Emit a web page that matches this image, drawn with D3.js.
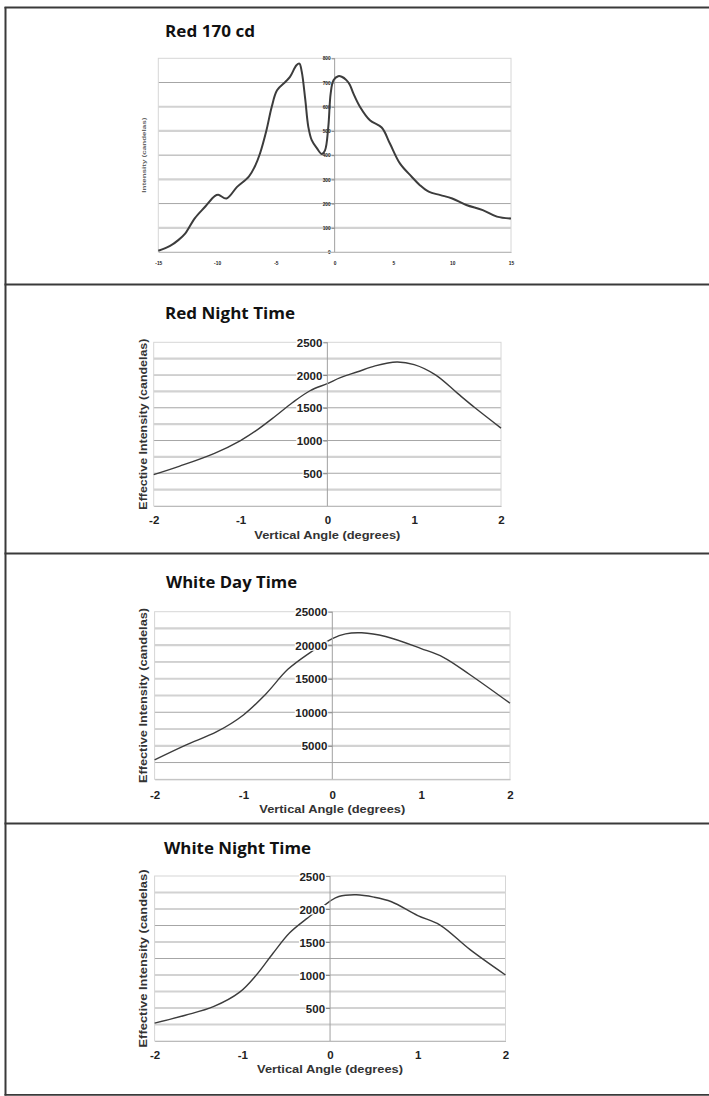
<!DOCTYPE html>
<html><head><meta charset="utf-8">
<script src="https://cdn.jsdelivr.net/npm/d3@7/dist/d3.min.js"></script>
<style>
html,body{margin:0;padding:0;background:#fff;}
svg{display:block;}
</style></head>
<body>
<svg id="c" width="709" height="1096"></svg>
<script>
// ---------- data ----------
const titles = ["Red 170 cd", "Red Night Time", "White Day Time", "White Night Time"];

const red170Angle = [-15,-14,-13.3,-12.7,-11.9,-11,-10.2,-9.9,-9.2,-8.3,-7.3,-6.8,-6.35,-5.8,-5.35,-4.9,-4.2,-3.8,-3.25,-3.0,-2.8,-2.5,-2.24,-1.95,-1.5,-1.1,-0.82,-0.54,-0.34,-0.1,0.3,0.6,1.0,1.3,1.6,2.15,3.0,4.0,4.7,5.55,6.55,7.25,8.0,9.0,10.0,11.2,12.6,13.8,15];
const red170Intensity = [5,25,49,77,139,188,231,236,221,269,311,352,407,503,600,668,702,723,771,778,745,630,517,462,428,405,420,517,654,709,726,724,710,690,654,600,544,514,448,366,311,276,249,235,221,194,173,146,138];

const redNightAngle = [-2,-1.7,-1.3,-1.0,-0.8,-0.6,-0.4,-0.2,0,0.15,0.35,0.55,0.8,1.0,1.25,1.5,1.7,2];
const redNightIntensity = [480,610,805,1000,1170,1370,1580,1760,1870,1960,2050,2140,2200,2160,2000,1720,1500,1190];

const whiteDayAngle = [-2,-1.65,-1.3,-1.0,-0.75,-0.5,-0.25,0,0.15,0.33,0.6,1.0,1.25,1.55,2];
const whiteDayIntensity = [2900,5100,7100,9600,12700,16400,18900,21000,21700,21850,21300,19500,18200,15600,11350];

const whiteNightAngle = [-2,-1.65,-1.33,-1.03,-0.84,-0.65,-0.46,-0.27,-0.1,0,0.1,0.3,0.5,0.7,1.0,1.25,1.6,2];
const whiteNightIntensity = [270,390,520,740,1000,1330,1640,1850,2020,2120,2190,2215,2180,2110,1900,1760,1380,1000];

const red170XTicks = [-15,-10,-5,0,5,10,15];
const red170YTicks = [0,100,200,300,400,500,600,700,800];
const angleTicks = [-2,-1,0,1,2];
const redNightYTicks = [500,1000,1500,2000,2500];
const whiteDayYTicks = [5000,10000,15000,20000,25000];
const whiteNightYTicks = [500,1000,1500,2000,2500];

const red170Grid = [100,200,300,400,500,600,700];
const nightGrid = [250,500,750,1000,1250,1500,1750,2000,2250];
const dayGrid = [2500,5000,7500,10000,12500,15000,17500,20000,22500];

const yTitleText = "Effective Intensity (candelas)";
const xTitleText = "Vertical Angle (degrees)";
const smallYTitle = "Intensity (candelas)";

// ---------- layout ----------
const panels = [
  {title:titles[0], xs:red170Angle, ys:red170Intensity, xDom:[-15,15], yDom:[0,800],
   xTicks:red170XTicks, yTicks:red170YTicks, grid:red170Grid, dark:[700,400,200],
   box:{l:158.3,r:511,t:58.3,b:252}, tX:165, tY:31, tLen:90, labelBg:false,
   tickFont:4.8, yTitle:smallYTitle, yTX:144, yTLen:75, yTSize:6, xLabY:263, xTitle:null, curveW:2, tickLen:3},
  {title:titles[1], xs:redNightAngle, ys:redNightIntensity, xDom:[-2,2], yDom:[0,2500],
   xTicks:angleTicks, yTicks:redNightYTicks, grid:nightGrid, dark:[500,1000,1500,2000],
   box:{l:153.7,r:501,t:342.3,b:506}, tX:165, tY:313, tLen:130, labelBg:true,
   tickFont:11.5, yTitle:yTitleText, yTX:143.5, yTLen:171, yTSize:10.5, xLabY:520, xTitle:xTitleText, xTY:535, curveW:1.4, tickLen:4},
  {title:titles[2], xs:whiteDayAngle, ys:whiteDayIntensity, xDom:[-2,2], yDom:[0,25000],
   xTicks:angleTicks, yTicks:whiteDayYTicks, grid:dayGrid, dark:[17500,10000,7500,2500],
   box:{l:154.6,r:510,t:611.7,b:779.3}, tX:166, tY:582, tLen:131, labelBg:true,
   tickFont:11.5, yTitle:yTitleText, yTX:143.8, yTLen:175, yTSize:10.5, xLabY:795, xTitle:xTitleText, xTY:809, curveW:1.4, tickLen:4},
  {title:titles[3], xs:whiteNightAngle, ys:whiteNightIntensity, xDom:[-2,2], yDom:[0,2500],
   xTicks:angleTicks, yTicks:whiteNightYTicks, grid:nightGrid, dark:[1750,1250],
   box:{l:154.6,r:505.5,t:876,b:1041}, tX:164, tY:848, tLen:147, labelBg:true,
   tickFont:11.5, yTitle:yTitleText, yTX:143, yTLen:178, yTSize:10.5, xLabY:1055, xTitle:xTitleText, xTY:1069, curveW:1.4, tickLen:4}
];

const svg = d3.select("#c");
const FONT = "'Liberation Sans', Arial, sans-serif";
const TFONT = "'Open Sans', 'Noto Sans', sans-serif";

// frame lines
svg.append("line").attr("x1",5.5).attr("x2",5.5).attr("y1",7).attr("y2",1095.5).attr("stroke","#3a3a3a").attr("stroke-width",2);
[7.5, 284.5, 553.5, 823.5, 1094.8].forEach(y=>{
  svg.append("line").attr("x1",4.5).attr("x2",709).attr("y1",y).attr("y2",y).attr("stroke","#3a3a3a").attr("stroke-width",1.8);
});

panels.forEach(p=>{
  const g = svg.append("g");
  const x = d3.scaleLinear().domain(p.xDom).range([p.box.l, p.box.r]);
  const y = d3.scaleLinear().domain(p.yDom).range([p.box.b, p.box.t]);

  // gridlines
  g.append("g").selectAll("line").data(p.grid).join("line")
    .attr("x1",p.box.l).attr("x2",p.box.r)
    .attr("y1",d=>y(d)).attr("y2",d=>y(d))
    .attr("stroke",d=>p.dark.includes(d)?"#a6a6a6":"#d2d2d2")
    .attr("stroke-width",d=>p.dark.includes(d)?1:2.2);

  // plot border
  g.append("rect").attr("x",p.box.l).attr("y",p.box.t)
    .attr("width",p.box.r-p.box.l).attr("height",p.box.b-p.box.t)
    .attr("fill","none").attr("stroke","#d6d6d6").attr("stroke-width",1);

  const line = d3.line().x(d=>x(d[0])).y(d=>y(d[1])).curve(d3.curveCatmullRom.alpha(0.5));
  const drawCurve = () => g.append("path").datum(p.xs.map((v,i)=>[v,p.ys[i]]))
    .attr("d",line).attr("fill","none").attr("stroke","#3c3c3c")
    .attr("stroke-width",p.curveW).attr("stroke-linejoin","round");
  if(p.labelBg) drawCurve();

  // y axis at x=0
  const ya = g.append("g").attr("transform",`translate(${x(0)},0)`)
    .call(d3.axisLeft(y).tickValues(p.yTicks).tickFormat(d=>String(d)).tickSize(p.tickLen).tickPadding(1));
  ya.select(".domain").attr("stroke","#a0a0a0").attr("stroke-width",1).attr("d",`M0,${p.box.t}V${p.box.b}`);
  ya.selectAll(".tick line").attr("stroke","#888");
  ya.selectAll("text").attr("font-family",FONT).attr("font-weight","bold")
    .attr("font-size",p.tickFont).attr("fill","#222").attr("dy","0.35em");
  if(p.labelBg){
    ya.selectAll(".tick").each(function(){
      const t = d3.select(this).select("text");
      const bb = t.node().getBBox();
      d3.select(this).insert("rect","text")
        .attr("x",bb.x-0.5).attr("y",bb.y+bb.height*0.12)
        .attr("width",bb.width+1).attr("height",bb.height*0.8).attr("fill","#fff");
    });
  } else {
    drawCurve();
  }

  // x axis at bottom
  const xa = g.append("g").attr("transform",`translate(0,${p.box.b})`)
    .call(d3.axisBottom(x).tickValues(p.xTicks).tickFormat(d=>String(d)).tickSize(0).tickPadding(0));
  xa.select(".domain").attr("stroke","#bbb");
  xa.selectAll("text").attr("font-family",FONT).attr("font-weight","bold")
    .attr("font-size",p.tickFont).attr("fill","#222")
    .attr("y",p.xLabY-p.box.b).attr("dy","0.35em");

  // title
  g.append("text").attr("x",p.tX).attr("y",p.tY).attr("dy","0.36em")
    .attr("font-family",TFONT).attr("font-weight","bold").attr("font-size",15.5)
    .attr("fill","#111").attr("textLength",p.tLen).attr("lengthAdjust","spacingAndGlyphs")
    .text(p.title);

  // y title
  g.append("text").attr("transform",`translate(${p.yTX},${(p.box.t+p.box.b)/2}) rotate(-90)`)
    .attr("text-anchor","middle").attr("dy","0.35em")
    .attr("font-family",FONT).attr("font-weight","bold").attr("font-size",p.yTSize)
    .attr("fill",p.xTitle?"#333":"#666")
    .attr("textLength",p.yTLen).attr("lengthAdjust","spacingAndGlyphs")
    .text(p.yTitle);

  // x title
  if(p.xTitle){
    g.append("text").attr("x",x(0)).attr("y",p.xTY).attr("dy","0.35em")
      .attr("text-anchor","middle")
      .attr("font-family",FONT).attr("font-weight","bold").attr("font-size",10.5)
      .attr("fill","#333").attr("textLength",146).attr("lengthAdjust","spacingAndGlyphs")
      .text(p.xTitle);
  }
});
</script>
</body></html>
